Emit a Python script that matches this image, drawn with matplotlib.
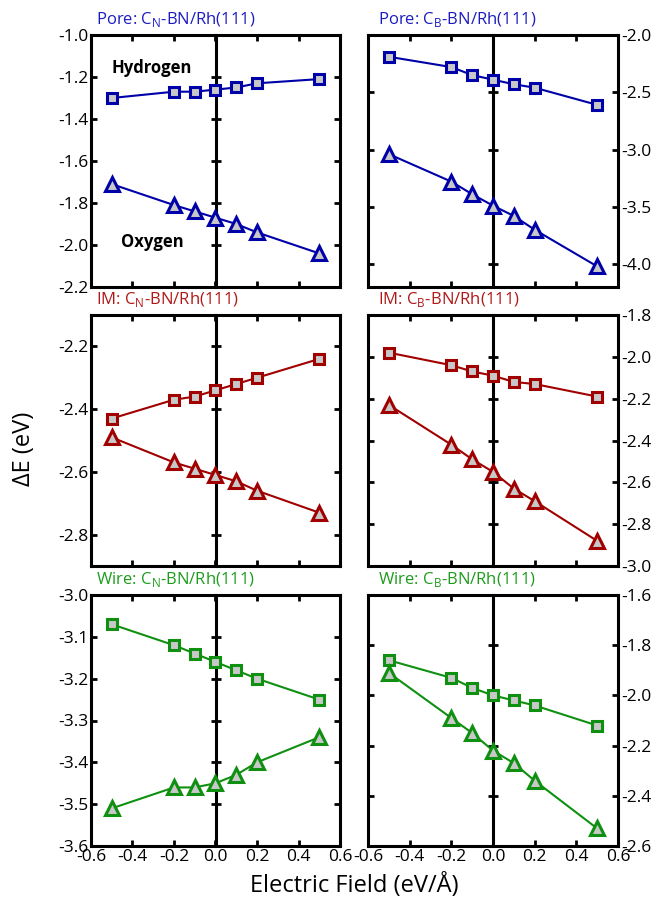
import numpy as np
import matplotlib
matplotlib.use("Agg")
import matplotlib.pyplot as plt
from matplotlib.ticker import FormatStrFormatter, MultipleLocator

plt.rcParams['font.family'] = ['Open Sans', 'DejaVu Sans']
plt.rcParams['axes.unicode_minus'] = False
plt.rcParams['mathtext.fontset'] = 'custom'
plt.rcParams['mathtext.rm'] = 'Open Sans'

field = [-0.5, -0.2, -0.1, 0.0, 0.1, 0.2, 0.5]

pore_cn_h = [-1.30, -1.27, -1.27, -1.26, -1.25, -1.23, -1.21]
pore_cn_o = [-1.71, -1.81, -1.84, -1.87, -1.90, -1.94, -2.04]
pore_cb_h = [-2.19, -2.28, -2.35, -2.39, -2.43, -2.46, -2.61]
pore_cb_o = [-3.04, -3.28, -3.39, -3.49, -3.58, -3.70, -4.02]
im_cn_h = [-2.43, -2.37, -2.36, -2.34, -2.32, -2.30, -2.24]
im_cn_o = [-2.49, -2.57, -2.59, -2.61, -2.63, -2.66, -2.73]
im_cb_h = [-1.98, -2.04, -2.07, -2.09, -2.12, -2.13, -2.19]
im_cb_o = [-2.23, -2.42, -2.49, -2.55, -2.63, -2.69, -2.88]
wire_cn_h = [-3.07, -3.12, -3.14, -3.16, -3.18, -3.20, -3.25]
wire_cn_o = [-3.51, -3.46, -3.46, -3.45, -3.43, -3.40, -3.34]
wire_cb_h = [-1.86, -1.93, -1.97, -2.00, -2.02, -2.04, -2.12]
wire_cb_o = [-1.91, -2.09, -2.15, -2.22, -2.27, -2.34, -2.53]

titles = [r"Pore: C$_\mathregular{N}$-BN/Rh(111)", r"Pore: C$_\mathregular{B}$-BN/Rh(111)",
          r"IM: C$_\mathregular{N}$-BN/Rh(111)", r"IM: C$_\mathregular{B}$-BN/Rh(111)",
          r"Wire: C$_\mathregular{N}$-BN/Rh(111)", r"Wire: C$_\mathregular{B}$-BN/Rh(111)"]

line_colors = ['#0000a8', '#a00000', '#109010']
text_colors = ['#1c1cc0', '#b01818', '#1c9c1c']

ylims = [(-2.2, -1.0), (-4.2, -2.0), (-2.9, -2.1), (-3.0, -1.8), (-3.6, -3.0), (-2.6, -1.6)]
ysteps = [0.2, 0.5, 0.2, 0.2, 0.1, 0.2]
data = [(pore_cn_h, pore_cn_o), (pore_cb_h, pore_cb_o), (im_cn_h, im_cn_o),
        (im_cb_h, im_cb_o), (wire_cn_h, wire_cn_o), (wire_cb_h, wire_cb_o)]

fig = plt.figure(figsize=(6.54, 9.01), dpi=100)
W, H = 654, 901
cols = [(91, 340), (368, 618)]
rows = [(35, 287), (315, 566), (595, 846)]

for i in range(6):
    r, c = divmod(i, 2)
    x0, x1 = cols[c]
    y0, y1 = rows[r]
    ax = fig.add_axes([x0 / W, 1 - y1 / H, (x1 - x0) / W, (y1 - y0) / H])
    col = line_colors[r]
    h, o = data[i]
    ax.plot(field, h, '-', color=col, lw=1.5, marker='s', ms=7, mew=2.2,
            mfc='#c8c8c8', mec=col, zorder=5)
    ax.plot(field, o, '-', color=col, lw=1.5, marker='^', ms=10.5, mew=2.2,
            mfc='#c8c8c8', mec=col, zorder=5)
    ax.set_xlim(-0.6, 0.6)
    ax.set_ylim(*ylims[i])
    ax.xaxis.set_major_locator(MultipleLocator(0.2))
    ax.yaxis.set_major_locator(MultipleLocator(ysteps[i]))
    ax.xaxis.set_major_formatter(FormatStrFormatter('%.1f'))
    ax.yaxis.set_major_formatter(FormatStrFormatter('%.1f'))
    for s in ax.spines.values():
        s.set_linewidth(2.2)
    ax.tick_params(direction='in', length=4, width=2, top=True, right=True,
                   labelsize=12.5, pad=2)
    if c == 1:
        ax.tick_params(labelleft=False, labelright=True)
    if r < 2:
        ax.tick_params(labelbottom=False)
    # zero field axis line with crossing ticks
    sec = ax.secondary_yaxis(0.5)
    sec.set_yticks(ax.get_yticks())
    sec.spines['right'].set_linewidth(2.2)
    sec.spines['left'].set_linewidth(2.2)
    sec.tick_params(direction='inout', length=7, width=2, labelleft=False,
                    labelright=False)
    ax.text(0.02 if c == 0 else 0.04, 1.025, titles[i], transform=ax.transAxes,
            color=text_colors[r], fontsize=12, ha='left', va='bottom')
    if i == 0:
        ax.text(-0.5, -1.157, 'Hydrogen', fontsize=12, fontweight='bold', va='center')
        ax.text(-0.455, -1.986, 'Oxygen', fontsize=12, fontweight='bold', va='center')

fig.text(24 / W, 1 - 449 / H, 'ΔE (eV)', rotation=90, fontsize=17, ha='center', va='center')
fig.text(354 / W, 1 - 885 / H, 'Electric Field (eV/Å)', fontsize=17, ha='center', va='center')

fig.savefig('out.png', dpi=100)
